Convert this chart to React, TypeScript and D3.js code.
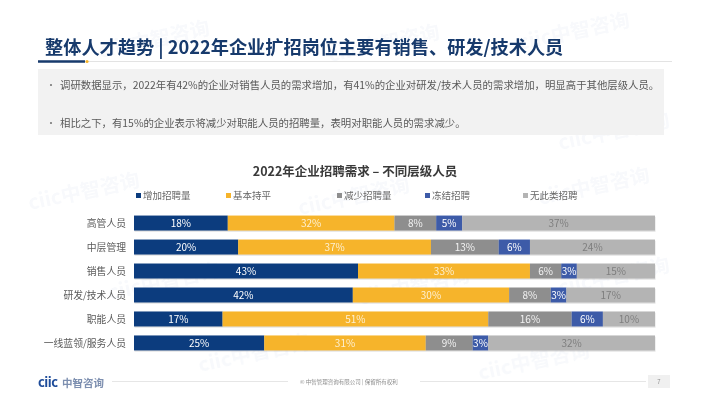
import React, { useRef, useEffect } from 'react';
import * as d3 from 'd3';

// chart data
const categories = ['高管人员', '中层管理', '销售人员', '研发/技术人员', '职能人员', '一线蓝领/服务人员'];
const seriesNames = ['增加招聘量', '基本持平', '减少招聘量', '冻结招聘', '无此类招聘'];
const increase = [18, 20, 43, 42, 17, 25];
const flat = [32, 37, 33, 30, 51, 31];
const decrease = [8, 13, 6, 8, 16, 9];
const freeze = [5, 6, 3, 3, 6, 3];
const none = [37, 24, 15, 17, 10, 32];

const COLORS = ['#0C3C7E', '#F6B42B', '#8E8E8E', '#3D5BA8', '#B4B4B4'];
const LABEL_COLORS = ['#FFFFFF', '#FDF0D2', '#F2F2F2', '#FFFFFF', '#7E7E7E'];

const pageTitle = '整体人才趋势 | 2022年企业扩招岗位主要有销售、研发/技术人员';
const bullets = [
  '调研数据显示，2022年有42%的企业对销售人员的需求增加，有41%的企业对研发/技术人员的需求增加，明显高于其他层级人员。',
  '相比之下，有15%的企业表示将减少对职能人员的招聘量，表明对职能人员的需求减少。',
];
const chartTitle = '2022年企业招聘需求 – 不同层级人员';
const footerText = '© 中智管理咨询有限公司 | 保留所有权利';

const FONT = '"Noto Sans CJK SC", "Noto Sans", sans-serif';

const App = () => {
  const svgRef = useRef<SVGSVGElement | null>(null);

  useEffect(() => {
    const svg = d3.select(svgRef.current);
    svg.selectAll('*').remove();

    // faint watermarks
    const wm = svg.append('g').attr('opacity', 0.035);
    const wmPos = [[100, 58], [330, 62], [520, 50], [170, 115], [420, 120], [560, 150], [30, 210], [300, 215], [540, 205], [110, 300], [360, 305], [560, 295], [200, 372], [480, 380]];
    wmPos.forEach(([x, y]) => {
      wm.append('text').attr('x', x).attr('y', y).attr('transform', `rotate(-12,${x},${y})`)
        .attr('font-family', FONT).attr('font-size', 20).attr('font-weight', 700).attr('fill', '#1E4C9A')
        .text('ciic中智咨询');
    });

    // header
    svg.append('text').attr('x', 45).attr('y', 54).attr('font-family', FONT).attr('font-size', 18.2)
      .attr('font-weight', 700).attr('fill', '#173A6C').text(pageTitle);
    svg.append('line').attr('x1', 88).attr('x2', 672).attr('y1', 61.5).attr('y2', 61.5).attr('stroke', '#E3E3E3').attr('stroke-width', 1);
    svg.append('line').attr('x1', 38).attr('x2', 85).attr('y1', 61.5).attr('y2', 61.5).attr('stroke', '#173A6C').attr('stroke-width', 2.5);
    svg.append('circle').attr('cx', 87).attr('cy', 61.5).attr('r', 1.6).attr('fill', '#F6B42B');

    // bullet box
    svg.append('rect').attr('x', 38).attr('y', 69).attr('width', 626).attr('height', 66).attr('fill', '#F2F2F2');
    bullets.forEach((b, i) => {
      const y = 89 + i * 38;
      svg.append('text').attr('x', 46).attr('y', y).attr('font-family', FONT).attr('font-size', 10).attr('fill', '#7F7F7F').text('•');
      svg.append('text').attr('x', 60).attr('y', y).attr('font-family', FONT).attr('font-size', 10.4)
        .attr('fill', '#595959').text(b);
    });

    // chart title
    svg.append('text').attr('x', 355).attr('y', 176).attr('text-anchor', 'middle').attr('font-family', FONT)
      .attr('font-size', 12.5).attr('font-weight', 700).attr('fill', '#3A3A3A').text(chartTitle);

    // legend
    const legendOffsets = [0, 90, 201, 289, 387];
    const lg = svg.append('g');
    seriesNames.forEach((s, i) => {
      const x = 136 + legendOffsets[i];
      lg.append('rect').attr('x', x).attr('y', 193).attr('width', 5).attr('height', 5).attr('fill', COLORS[i]);
      lg.append('text').attr('x', x + 7).attr('y', 199).attr('font-family', FONT).attr('font-size', 9.5)
        .attr('fill', '#666666').text(s);
    });

    // bars
    const rows = categories.map((c, i) => ({ cat: c, vals: [increase[i], flat[i], decrease[i], freeze[i], none[i]] }));
    const x = d3.scaleLinear().domain([0, 100]).range([134, 655]);
    const y = d3.scaleBand().domain(categories).range([211, 355]).paddingInner(0.375).paddingOuter(0.19);
    const bh = y.bandwidth();

    rows.forEach((r) => {
      const y0 = y(r.cat)!;
      const g = svg.append('g');
      // shadow
      g.append('rect').attr('x', x(0) + 0.5).attr('y', y0 + 1.2).attr('width', x(100) - x(0)).attr('height', bh)
        .attr('fill', '#000').attr('opacity', 0.12);
      let acc = 0;
      r.vals.forEach((v, k) => {
        const xs = x(acc), xe = x(acc + v);
        g.append('rect').attr('x', xs).attr('y', y0).attr('width', xe - xs).attr('height', bh).attr('fill', COLORS[k]);
        g.append('text').attr('x', (xs + xe) / 2).attr('y', y0 + bh / 2 + 3.6).attr('text-anchor', 'middle')
          .attr('font-family', FONT).attr('font-size', 10).attr('fill', LABEL_COLORS[k]).text(`${v}%`);
        acc += v;
      });
      svg.append('text').attr('x', 126).attr('y', y0 + bh / 2 + 3.6).attr('text-anchor', 'end').attr('font-family', FONT)
        .attr('font-size', 9.8).attr('fill', '#595959').text(r.cat);
    });

    // footer
    svg.append('text').attr('x', 38).attr('y', 387).attr('font-family', FONT).attr('font-size', 13).attr('font-weight', 700)
      .attr('fill', '#1E4C9A').attr('letter-spacing', -0.5).text('ciic');
    svg.append('text').attr('x', 62).attr('y', 386.5).attr('font-family', FONT).attr('font-size', 10.5).attr('font-weight', 700)
      .attr('fill', '#7D8FB0').text('中智咨询');
    svg.append('line').attr('x1', 112).attr('x2', 288).attr('y1', 381.5).attr('y2', 381.5).attr('stroke', '#E6E6E6');
    svg.append('line').attr('x1', 420).attr('x2', 646).attr('y1', 381.5).attr('y2', 381.5).attr('stroke', '#E6E6E6');
    svg.append('text').attr('x', 300).attr('y', 383.5).attr('font-family', FONT).attr('font-size', 5.5).attr('fill', '#8C8C8C').text(footerText);
    svg.append('rect').attr('x', 648).attr('y', 375).attr('width', 22).attr('height', 13).attr('fill', '#F0F0F0');
    svg.append('text').attr('x', 659).attr('y', 384).attr('text-anchor', 'middle').attr('font-family', FONT).attr('font-size', 6)
      .attr('fill', '#8C8C8C').text('7');
  }, []);

  return (
    <div style={{ position: 'fixed', left: 0, top: 0, width: 710, height: 399, background: '#fff' }}>
      <svg ref={svgRef} width={710} height={399} style={{ display: 'block' }} />
    </div>
  );
};

export default App;
